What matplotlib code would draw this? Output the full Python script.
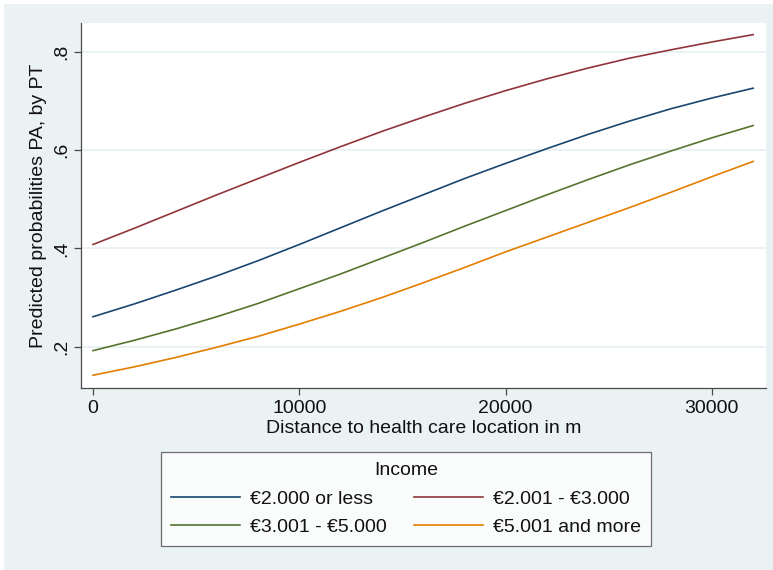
import matplotlib.pyplot as plt
from matplotlib.patches import Rectangle

# distance in metres, predicted probability per income group
distance = [0, 2000, 4000, 6000, 8000, 10000, 12000, 14000, 16000,
            18000, 20000, 22000, 24000, 26000, 28000, 30000, 32000]
inc_low = [.261, .287, .315, .344, .375, .408, .442, .476, .509,
           .542, .573, .603, .632, .659, .684, .706, .726]
inc_mid = [.408, .441, .475, .509, .542, .575, .607, .638, .667,
           .695, .721, .745, .767, .787, .804, .820, .835]
inc_high = [.192, .213, .236, .261, .288, .318, .348, .380, .412,
            .445, .477, .509, .540, .570, .598, .625, .650]
inc_top = [.142, .159, .178, .199, .221, .246, .272, .300, .330,
           .361, .393, .423, .453, .483, .514, .546, .577]

labels = ["€2.000 or less", "€2.001 - €3.000", "€3.001 - €5.000", "€5.001 and more"]
colors = ["#1a476f", "#90353b", "#55752f", "#e37e00"]
series = [inc_low, inc_mid, inc_high, inc_top]

x_ticks = [0, 10000, 20000, 30000]
y_ticks = [.2, .4, .6, .8]
y_ticklabels = [".2", ".4", ".6", ".8"]

bg = "#eaf2f3"
axc = "#4a4a4a"
plt.rcParams['font.family'] = ['Liberation Sans', 'DejaVu Sans']

fig = plt.figure(figsize=(7.73, 5.70), dpi=100, facecolor="white")
fig.patches.append(Rectangle((4 / 773, 0), 1, 566 / 570, transform=fig.transFigure,
                             facecolor=bg, edgecolor="none", zorder=0))

ax = fig.add_axes([0.1048, 0.3193, 0.8858, 0.6398])
ax.set_facecolor("white")
ax.set_zorder(1)

for y in y_ticks:
    ax.axhline(y, color=bg, lw=1.4, zorder=1)

for vals, lab, c in zip(series, labels, colors):
    ax.plot(distance, vals, color=c, lw=1.2, label=lab, zorder=3)

ax.set_xlim(-582, 32610)
ax.set_ylim(0.116, 0.858)
ax.set_xticks(x_ticks)
ax.set_xticklabels([str(t) for t in x_ticks])
ax.set_yticks(y_ticks)
ax.set_yticklabels(y_ticklabels, rotation=90, va="center")

for s in ["top", "right"]:
    ax.spines[s].set_visible(False)
for s in ["left", "bottom"]:
    ax.spines[s].set_color(axc)
    ax.spines[s].set_linewidth(0.9)
ax.tick_params(colors=axc, labelcolor="#111111", labelsize=14, length=5, width=0.9)
ax.tick_params(axis="y", pad=3)
ax.tick_params(axis="x", pad=4)

ax.set_xlabel("Distance to health care location in m", fontsize=14, color="#111111", labelpad=2)
ax.set_ylabel("Predicted probabilities PA, by PT", fontsize=14, color="#111111", labelpad=4)

# legend: first row low/mid, second row high/top
h, l = ax.get_legend_handles_labels()
order = [0, 2, 1, 3]
leg = fig.legend([h[i] for i in order], [l[i] for i in order], ncol=2,
                 loc="center", bbox_to_anchor=(406 / 773, 1 - 499 / 570),
                 fontsize=14, title="Income", title_fontsize=14,
                 frameon=True, fancybox=False, edgecolor=axc,
                 handlelength=3.55, handletextpad=0.55, columnspacing=1.35,
                 labelspacing=0.55, borderpad=0.5)
leg.get_frame().set_linewidth(0.9)
leg.get_title().set_color("#111111")
for t in leg.get_texts():
    t.set_color("#111111")

fig.savefig("out.png", dpi=100, facecolor=fig.get_facecolor())
